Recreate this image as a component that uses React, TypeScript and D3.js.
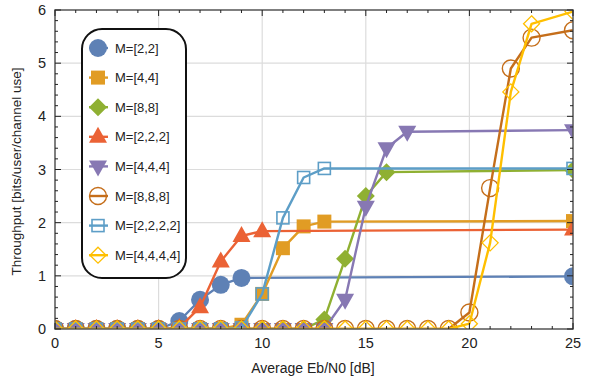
import React from 'react';
import * as d3 from 'd3';

// series data: [Eb/N0, throughput]
const xs22 = [0, 1, 2, 3, 4, 5, 6, 7, 8, 9, 25];
const m22 = [0, 0, 0, 0, 0, 0, 0.15, 0.55, 0.83, 0.96, 0.99];

const xs44 = [0, 1, 2, 3, 4, 5, 6, 7, 8, 9, 10, 11, 12, 13, 25];
const m44 = [0, 0, 0, 0, 0, 0, 0, 0, 0, 0.08, 0.66, 1.52, 1.93, 2.02, 2.03];

const xs88 = [0, 1, 2, 3, 4, 5, 6, 7, 8, 9, 10, 11, 12, 13, 14, 15, 16, 25];
const m88 = [0, 0, 0, 0, 0, 0, 0, 0, 0, 0, 0, 0, 0, 0.18, 1.32, 2.5, 2.95, 2.99];

const xs222 = [0, 1, 2, 3, 4, 5, 6, 7, 8, 9, 10, 25];
const m222 = [0, 0, 0, 0, 0, 0, 0.02, 0.41, 1.27, 1.75, 1.84, 1.87];

const xs444 = [0, 1, 2, 3, 4, 5, 6, 7, 8, 9, 10, 11, 12, 13, 14, 15, 16, 17, 25];
const m444 = [0, 0, 0, 0, 0, 0, 0, 0, 0, 0, 0, 0, 0, 0, 0.55, 2.3, 3.4, 3.71, 3.74];

const xs888 = [0, 1, 2, 3, 4, 5, 6, 7, 8, 9, 10, 11, 12, 13, 14, 15, 16, 17, 18, 19, 20, 21, 22, 23, 25];
const m888 = [0, 0, 0, 0, 0, 0, 0, 0, 0, 0, 0, 0, 0, 0, 0, 0, 0, 0, 0, 0, 0.31, 2.65, 4.9, 5.48, 5.62];

const xs2222 = [0, 1, 2, 3, 4, 5, 6, 7, 8, 9, 10, 11, 12, 13, 25];
const m2222 = [0, 0, 0, 0, 0, 0, 0, 0, 0, 0.02, 0.66, 2.09, 2.85, 3.02, 3.02];

const xs4444 = [0, 1, 2, 3, 4, 5, 6, 7, 8, 9, 10, 11, 12, 13, 14, 15, 16, 17, 18, 19, 20, 21, 22, 23, 25];
const m4444 = [0, 0, 0, 0, 0, 0, 0, 0, 0, 0, 0, 0, 0, 0, 0, 0, 0, 0, 0, 0, 0.1, 1.62, 4.46, 5.74, 5.97];

const labels = ['M=[2,2]', 'M=[4,4]', 'M=[8,8]', 'M=[2,2,2]', 'M=[4,4,4]', 'M=[8,8,8]', 'M=[2,2,2,2]', 'M=[4,4,4,4]'];
const colors = ['#5E81B5', '#E19C24', '#8FB032', '#EB6235', '#8778B3', '#C56E1A', '#5D9EC7', '#FFBF00'];
const shapes = ['circle', 'square', 'diamond', 'triUp', 'triDown', 'openCircle', 'openSquare', 'openDiamond'];

const xTicks = [0, 5, 10, 15, 20, 25];
const yTicks = [0, 1, 2, 3, 4, 5, 6];

const series = [
  [xs22, m22], [xs44, m44], [xs88, m88], [xs222, m222],
  [xs444, m444], [xs888, m888], [xs2222, m2222], [xs4444, m4444],
];

const W = 593, H = 380;
const left = 55, right = 573, top = 10, bottom = 329;

function Marker({ shape, x, y, color }: { shape: string; x: number; y: number; color: string }) {
  switch (shape) {
    case 'circle':
      return <circle cx={x} cy={y} r={9} fill={color} />;
    case 'square':
      return <rect x={x - 7} y={y - 7} width={14} height={14} fill={color} />;
    case 'diamond':
      return <path d={`M${x},${y - 9}L${x + 9},${y}L${x},${y + 9}L${x - 9},${y}Z`} fill={color} />;
    case 'triUp':
      return <path d={`M${x},${y - 10}L${x + 9},${y + 6}L${x - 9},${y + 6}Z`} fill={color} />;
    case 'triDown':
      return <path d={`M${x},${y + 10}L${x + 9},${y - 6}L${x - 9},${y - 6}Z`} fill={color} />;
    case 'openCircle':
      return <circle cx={x} cy={y} r={8.5} fill="none" stroke={color} strokeWidth={1.4} />;
    case 'openSquare':
      return <rect x={x - 6} y={y - 6} width={12} height={12} fill="none" stroke={color} strokeWidth={1.6} />;
    default:
      return <path d={`M${x},${y - 8}L${x + 8},${y}L${x},${y + 8}L${x - 8},${y}Z`} fill="none" stroke={color} strokeWidth={1.3} />;
  }
}

export default function App() {
  const x = d3.scaleLinear().domain([0, 25]).range([left, right]);
  const y = d3.scaleLinear().domain([0, 6]).range([bottom, top]);
  const line = d3.line<[number, number]>().x(d => x(d[0])).y(d => y(d[1]));

  const xMinor = d3.range(0, 26, 1);
  const yMinor = d3.range(0, 6.01, 0.2);
  const axisColor = '#555';
  const font = 'Liberation Sans, Arial, sans-serif';

  return (
    <div>
      <style>{'body{margin:0}'}</style>
      <svg width={W} height={H} style={{ display: 'block' }} fontFamily={font}>
        <defs>
          <clipPath id="plot">
            <rect x={left} y={top} width={right - left} height={bottom - top} />
          </clipPath>
        </defs>
        {/* grid */}
        {xTicks.slice(1, -1).map(t => (
          <line key={'gx' + t} x1={x(t)} x2={x(t)} y1={top} y2={bottom} stroke="#dcdcdc" strokeWidth={1.2} />
        ))}
        {yTicks.slice(1, -1).map(t => (
          <line key={'gy' + t} x1={left} x2={right} y1={y(t)} y2={y(t)} stroke="#dcdcdc" strokeWidth={1.2} />
        ))}

        {/* series */}
        <g clipPath="url(#plot)">
          {series.map(([xs, ys], i) => {
            const pts = xs.map((v, j) => [v, ys[j]] as [number, number]);
            return (
              <g key={'s' + i}>
                <path d={line(pts) || ''} fill="none" stroke={colors[i]} strokeWidth={2.4} strokeLinejoin="round" />
                {pts.map((p, j) => (
                  <Marker key={j} shape={shapes[i]} x={x(p[0])} y={y(p[1])} color={colors[i]} />
                ))}
              </g>
            );
          })}
        </g>

        {/* frame */}
        <rect x={left} y={top} width={right - left} height={bottom - top} fill="none" stroke={axisColor} strokeWidth={1.5} />
        {xMinor.map(t => {
          const len = t % 5 === 0 ? 6 : 3;
          return (
            <g key={'xt' + t}>
              <line x1={x(t)} x2={x(t)} y1={bottom} y2={bottom - len} stroke="#222" strokeWidth={1} />
              <line x1={x(t)} x2={x(t)} y1={top} y2={top + len} stroke="#222" strokeWidth={1} />
            </g>
          );
        })}
        {yMinor.map((t, k) => {
          const len = k % 5 === 0 ? 6 : 3;
          return (
            <g key={'yt' + k}>
              <line x1={left} x2={left + len} y1={y(t)} y2={y(t)} stroke="#222" strokeWidth={1} />
              <line x1={right} x2={right - len} y1={y(t)} y2={y(t)} stroke="#222" strokeWidth={1} />
            </g>
          );
        })}
        {xTicks.map(t => (
          <text key={'xl' + t} x={x(t)} y={bottom + 19} textAnchor="middle" fontSize={14.5} fill="#222">{t}</text>
        ))}
        {yTicks.map(t => (
          <text key={'yl' + t} x={left - 9} y={y(t) + 5} textAnchor="end" fontSize={14.5} fill="#222">{t}</text>
        ))}
        <text x={(left + right) / 2 - 1} y={373} textAnchor="middle" fontSize={14} fill="#222">Average Eb/N0 [dB]</text>
        <text transform={`translate(21,${(top + bottom) / 2 + 2}) rotate(-90)`} textAnchor="middle" fontSize={13.5} fill="#222">
          Throughput [bits/user/channel use]
        </text>

        {/* legend */}
        <rect x={82} y={29} width={104} height={249} rx={20} ry={20} fill="#fff" stroke="#111" strokeWidth={2} />
        {labels.map((lab, i) => {
          const ly = 48 + i * 29.6;
          return (
            <g key={'lg' + i}>
              <line x1={89} x2={108} y1={ly} y2={ly} stroke={colors[i]} strokeWidth={2.4} />
              <Marker shape={shapes[i]} x={98} y={ly} color={colors[i]} />
              <text x={115} y={ly + 4.5} fontSize={13} fill="#222">{lab}</text>
            </g>
          );
        })}
      </svg>
    </div>
  );
}
